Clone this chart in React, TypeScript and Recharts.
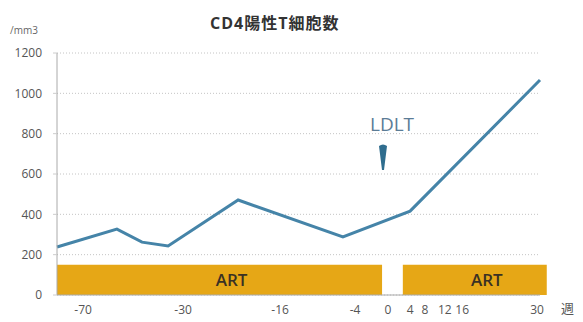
import React from 'react'
import {
  LineChart, Line, XAxis, YAxis, CartesianGrid, ReferenceArea, ReferenceDot, Label
} from 'recharts'

// x is a position along the (non-linear) week axis, 0..100
const positions = [0, 12.4, 17.6, 23.0, 37.5, 59.2, 73.1, 100]
const cd4 = [238, 327, 262, 243, 471, 288, 416, 1066]

const tickPos = [5.4, 26.1, 46.2, 61.7, 68.5, 73.1, 76.2, 80.3, 83.9, 99.4]
const tickLabels = ['-70', '-30', '-16', '-4', '0', '4', '8', '12', '16', '30']
const yTicks = [0, 200, 400, 600, 800, 1000, 1200]

// ART periods (x from / to, height)
const artFrom = [0, 71.6]
const artTo = [67.3, 101.4]
const artTop = 150
const ldltPos = 67.5
const ldltY = 600

const data = positions.map((p, i) => ({ pos: p, cd4: cd4[i] }))

const FONT = '"Open Sans", "Noto Sans CJK JP", sans-serif'

const LdltMark = (props: any) => {
  const { cx, cy } = props
  if (cx == null || cy == null) return null
  const tip = cy - 4
  return (
    <g>
      <text x={cx + 9} y={cy - 43} textAnchor="middle" fontSize={19} fill="#5b7c96" fontFamily={FONT}>LDLT</text>
      <path
        d={`M ${cx - 4} ${tip - 24} Q ${cx} ${tip - 27} ${cx + 4} ${tip - 24} L ${cx + 1} ${tip} L ${cx - 1} ${tip} Z`}
        fill="#2f6d8e"
      />
    </g>
  )
}

export default function App() {
  return (
    <div style={{ position: 'absolute', left: 0, top: 0, width: 583, height: 322, background: '#fff', fontFamily: FONT }}>
      <div style={{ position: 'absolute', left: 210, top: 10, fontSize: 16, fontWeight: 700, letterSpacing: 1, color: '#333', whiteSpace: 'nowrap' }}>
        CD4陽性T細胞数
      </div>
      <div style={{ position: 'absolute', left: 10, top: 23, fontSize: 10, color: '#666' }}>/mm3</div>
      <div style={{ position: 'absolute', left: 561, top: 298, fontSize: 13, color: '#555' }}>週</div>
      <LineChart width={583} height={322} data={data} margin={{ top: 53, right: 43, bottom: 0, left: 0 }}>
        <CartesianGrid vertical={false} stroke="#c4c4c4" strokeDasharray="1 2" />
        <XAxis
          type="number" dataKey="pos" domain={[0, 100]} ticks={tickPos} height={27}
          tickFormatter={(v: number) => tickLabels[tickPos.indexOf(v)] ?? ''}
          tickLine={false} tickMargin={4} axisLine={{ stroke: '#aaa' }}
          tick={{ fontSize: 12, fill: '#555', fontFamily: FONT }} interval={0}
        />
        <YAxis
          domain={[0, 1200]} ticks={yTicks} width={57} tickSize={4} tickMargin={11}
          tickLine={{ stroke: '#ccc' }} axisLine={{ stroke: '#aaa' }}
          tick={{ fontSize: 12, fill: '#555', fontFamily: FONT }}
        />
        {artFrom.map((x1, i) => (
          <ReferenceArea key={i} x1={x1} x2={artTo[i]} y1={0} y2={artTop} fill="#e6a716" fillOpacity={1} stroke="none" ifOverflow="visible">
            <Label position="center" dx={12} fontSize={17} fontWeight={600} fill="#3a3124" fontFamily={FONT} value="ART" />
          </ReferenceArea>
        ))}
        <Line type="linear" dataKey="cd4" stroke="#4584a8" strokeWidth={3} dot={false} isAnimationActive={false} />
        <ReferenceDot x={ldltPos} y={ldltY} shape={LdltMark} ifOverflow="visible" />
      </LineChart>
    </div>
  )
}
